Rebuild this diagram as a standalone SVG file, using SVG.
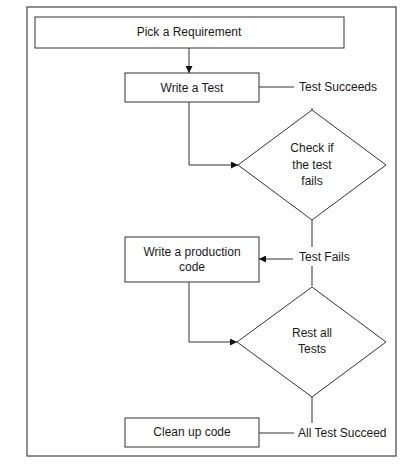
<svg xmlns="http://www.w3.org/2000/svg" width="417" height="469" viewBox="0 0 417 469">
<style>
.box{fill:#fff;stroke:#333;stroke-width:1}
.frame{fill:#fff;stroke:#444;stroke-width:1.2}
.ln{fill:none;stroke:#333;stroke-width:1}
text{font-family:"Liberation Sans",Arial,sans-serif;font-size:12px;fill:#1a1a1a;text-anchor:middle}
.l{text-anchor:start}
</style>
<defs>
<marker id="ah" viewBox="0 0 10 10" refX="10" refY="5" markerWidth="7" markerHeight="7" markerUnits="userSpaceOnUse" orient="auto">
<path d="M0,0 L10,5 L0,10 Z" fill="#111"/>
</marker>
</defs>
<rect class="frame" x="27" y="7" width="369" height="449"/>
<g id="connectors">
<path class="ln" d="M189,48 V73" marker-end="url(#ah)"/>
<path class="ln" d="M259,87 H294"/>
<path class="ln" d="M312,108 V110"/>
<path class="ln" d="M189,102 V165 H238" marker-end="url(#ah)"/>
<path class="ln" d="M312,220 V247"/>
<path class="ln" d="M312,266 V286"/>
<path class="ln" d="M293,259 H259" marker-end="url(#ah)"/>
<path class="ln" d="M189,282 V342 H237" marker-end="url(#ah)"/>
<path class="ln" d="M312,397 V423"/>
<path class="ln" d="M294,433 H259"/>
</g>
<g id="pick">
<rect class="box" x="35" y="17" width="309" height="31"/>
<text x="189" y="36">Pick a Requirement</text>
</g>
<g id="writeTest">
<rect class="box" x="125" y="73" width="134" height="29"/>
<text x="192" y="92">Write a Test</text>
</g>
<g id="testSucceeds">
<text class="l" x="299" y="91">Test Succeeds</text>
</g>
<g id="check">
<polygon class="box" points="312,110 386,165 312,220 238,165"/>
<text x="312" y="152">Check if</text>
<text x="312" y="169">the test</text>
<text x="312" y="185">fails</text>
</g>
<g id="testFails">
<text class="l" x="299" y="261">Test Fails</text>
</g>
<g id="prod">
<rect class="box" x="125" y="237" width="134" height="45"/>
<text x="192" y="256">Write a production</text>
<text x="192" y="271">code</text>
</g>
<g id="rest">
<polygon class="box" points="312,287 386,342 312,397 237,342"/>
<text x="312" y="337">Rest all</text>
<text x="312" y="353">Tests</text>
</g>
<g id="allSucceed">
<text class="l" x="298" y="437">All Test Succeed</text>
</g>
<g id="clean">
<rect class="box" x="125" y="418" width="134" height="29"/>
<text x="192" y="436">Clean up code</text>
</g>
</svg>
